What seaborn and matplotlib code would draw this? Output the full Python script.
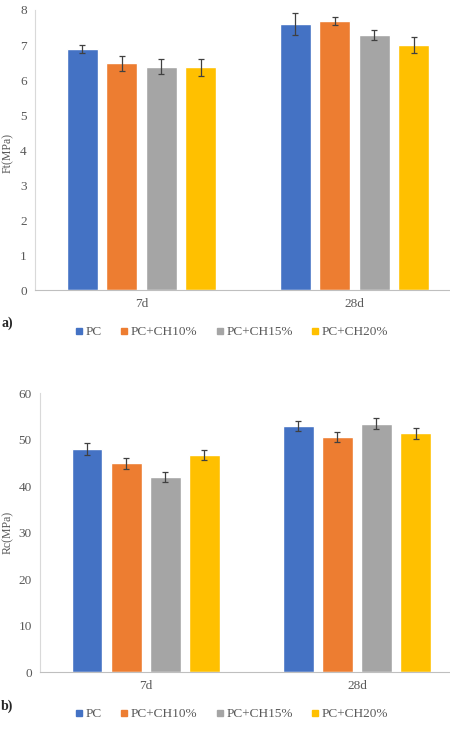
import numpy as np
import pandas as pd
import matplotlib
matplotlib.use('Agg')
import matplotlib.pyplot as plt
import seaborn as sns

sns.set_style('white')
plt.rcParams['font.family'] = ['Liberation Serif', 'DejaVu Serif']

ages = ['7d', '28d']
mixes = ['PC', 'PC+CH10%', 'PC+CH15%', 'PC+CH20%']
colors = ['#4472C4', '#ED7D31', '#A5A5A5', '#FFC000']

# a) Ft (MPa)
ft_7d = [6.88, 6.48, 6.38, 6.36]
ft_28d = [7.60, 7.69, 7.28, 6.99]
ft_err_7d = [0.11, 0.21, 0.21, 0.24]
ft_err_28d = [0.31, 0.12, 0.14, 0.23]

# b) Rc (MPa)
rc_7d = [47.9, 44.9, 41.9, 46.7]
rc_28d = [52.9, 50.5, 53.4, 51.3]
rc_err_7d = [1.25, 1.15, 1.07, 1.15]
rc_err_28d = [1.0, 1.1, 1.18, 1.18]


def make_df(v7, v28, e7, e28):
    rows = []
    for i, m in enumerate(mixes):
        rows.append((ages[0], m, v7[i], e7[i]))
        rows.append((ages[1], m, v28[i], e28[i]))
    return pd.DataFrame(rows, columns=['age', 'mix', 'val', 'err'])


def draw(ax, df, yticks):
    sns.barplot(data=df, x='age', y='val', hue='mix', order=ages, hue_order=mixes,
                palette=colors, width=0.74, gap=0.21, errorbar=None, legend=False,
                saturation=1, ax=ax)
    # error bars on top of each bar (patches come hue by hue, x in order)
    bars = [p for p in ax.patches if p.get_height() > 0]
    errs = []
    for m in mixes:
        for a in ages:
            errs.append(df[(df.mix == m) & (df.age == a)].err.iloc[0])
    xs = [p.get_x() + p.get_width() / 2 for p in bars]
    hs = [p.get_height() for p in bars]
    ax.errorbar(xs, hs, yerr=errs, fmt='none', ecolor='#404040', elinewidth=0.9,
                capsize=2.5, capthick=0.9)
    ax.set_xlim(-0.5, 1.5)
    ax.set_ylim(yticks[0], yticks[-1])
    ax.set_yticks(yticks)
    ax.set_xlabel('')
    ax.set_ylabel('')
    ax.tick_params(axis='both', length=0, labelsize=9.5, labelcolor='#595959', pad=6)
    for s in ['top', 'right']:
        ax.spines[s].set_visible(False)
    ax.spines['left'].set_color('#D9D9D9')
    ax.spines['bottom'].set_color('#BFBFBF')
    ax.spines['left'].set_linewidth(0.8)
    ax.spines['bottom'].set_linewidth(0.8)


fig = plt.figure(figsize=(4.5, 7.35), dpi=100)

ax1 = fig.add_axes([0.0778, 0.6054, 0.947, 0.381])
draw(ax1, make_df(ft_7d, ft_28d, ft_err_7d, ft_err_28d), list(range(0, 9)))

ax2 = fig.add_axes([0.0889, 0.0857, 0.939, 0.3796])
draw(ax2, make_df(rc_7d, rc_28d, rc_err_7d, rc_err_28d), list(range(0, 61, 10)))

fig.text(2 / 450, 1 - 153 / 735, 'Ft(MPa)', rotation=90, ha='left', va='center',
         fontsize=8.5, color='#595959')
fig.text(2 / 450, 1 - 532 / 735, 'Rc(MPa)', rotation=90, ha='left', va='center',
         fontsize=8.5, color='#595959')

fig.text(1 / 450, 1 - 323 / 735, 'a)', fontsize=10, fontweight='bold', va='center')
fig.text(1 / 450, 1 - 706 / 735, 'b)', fontsize=10, fontweight='bold', va='center')

handles = [plt.Line2D([], [], marker='s', linestyle='none', markersize=5,
                      color=c) for c in colors]
for yy in [332, 714]:
    fig.legend(handles, mixes, loc='center', bbox_to_anchor=(0.513, 1 - yy / 735),
               ncol=4, frameon=False, fontsize=9.5, handletextpad=0.1,
               columnspacing=1.3, labelcolor='#595959', handlelength=0.8)

fig.savefig('out.png', dpi=100)
